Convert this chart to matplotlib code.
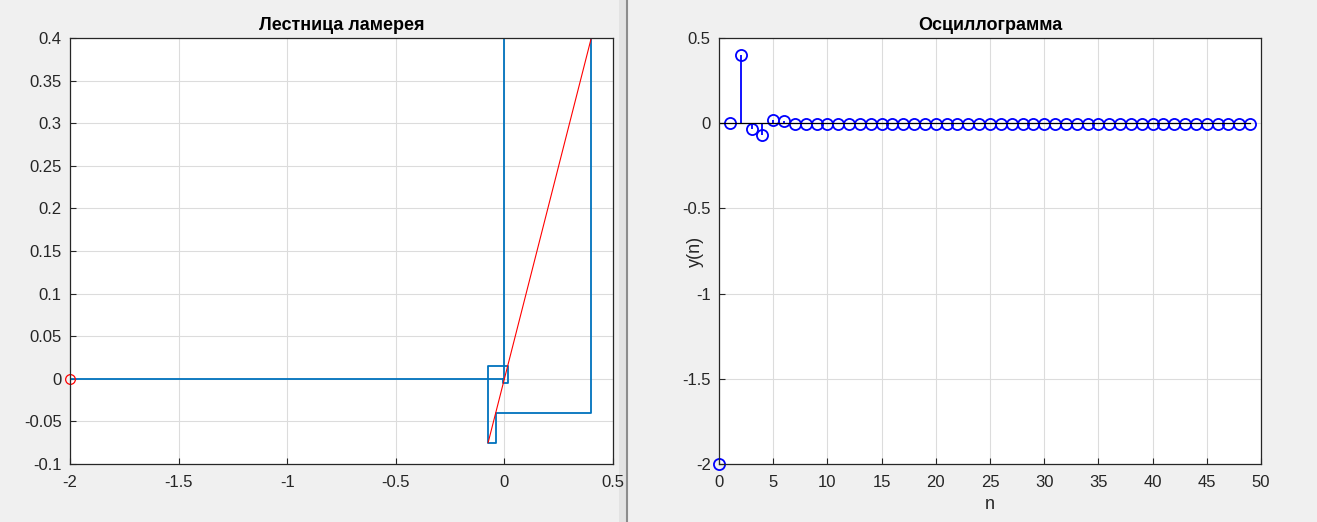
import matplotlib
matplotlib.use('Agg')
import matplotlib.pyplot as plt
from matplotlib.lines import Line2D
from matplotlib.patches import Rectangle
import numpy as np

plt.rcParams['font.family'] = ['Liberation Sans', 'DejaVu Sans']

# iterates used for the Lamerey staircase
x_seq = [-2.0, 0.0, 0.4, -0.04, -0.075, 0.0156, -0.005, 0.0, 0.0]

# oscillogram y(n), n = 0..49
y_n = [-2.0, 0.0, 0.4, -0.035, -0.072, 0.018, 0.012] + [-0.003] * 43
n = np.arange(len(y_n))

x_ticks_left = [-2, -1.5, -1, -0.5, 0, 0.5]
y_ticks_left = [-0.1, -0.05, 0, 0.05, 0.1, 0.15, 0.2, 0.25, 0.3, 0.35, 0.4]
x_ticks_right = list(range(0, 51, 5))
y_ticks_right = [-2, -1.5, -1, -0.5, 0, 0.5]

bg = '#f0f0f0'
mblue = (0, 0.447, 0.741)
W, H = 1317, 522

fig = plt.figure(figsize=(W / 100, H / 100), dpi=100, facecolor=bg)


def box(l, t, r, b):
    return [l / W, (H - b) / H, (r - l) / W, (b - t) / H]


def style(ax):
    ax.grid(True, color='#dcdcdc', linewidth=0.8)
    ax.set_axisbelow(True)
    ax.tick_params(direction='in', length=4, labelsize=12, colors='#262626')
    ax.tick_params(axis='x', pad=8)
    ax.tick_params(axis='y', pad=6)
    for s in ax.spines.values():
        s.set_color('#262626')
        s.set_linewidth(0.9)


# ---- Lamerey staircase ----
ax1 = fig.add_axes(box(70, 38, 613, 464))
px = [x_seq[0]]
py = [x_seq[1]]
for k in range(1, len(x_seq) - 1):
    px += [x_seq[k], x_seq[k]]
    py += [x_seq[k], x_seq[k + 1]]
ax1.plot(px, py, color=mblue, linewidth=1.3)
lo = min(x_seq[1:])
hi = max(x_seq[1:])
ax1.plot([lo, hi], [lo, hi], color='red', linewidth=0.8)
ax1.plot(x_seq[0], x_seq[1], 'o', color='red', markerfacecolor='none',
         markersize=7, markeredgewidth=0.9, clip_on=False)
ax1.set_xlim(-2, 0.5)
ax1.set_ylim(-0.1, 0.4)
ax1.set_xticks(x_ticks_left)
ax1.set_xticklabels(['-2', '-1.5', '-1', '-0.5', '0', '0.5'])
ax1.set_yticks(y_ticks_left)
ax1.set_yticklabels(['-0.1', '-0.05', '0', '0.05', '0.1', '0.15', '0.2',
                     '0.25', '0.3', '0.35', '0.4'])
ax1.set_title('Лестница ламерея', fontsize=13, fontweight='bold', pad=6)
style(ax1)

# ---- oscillogram ----
ax2 = fig.add_axes(box(719, 38, 1261, 464))
ml, sl, bl = ax2.stem(n, y_n, basefmt='k-')
plt.setp(sl, color='blue', linewidth=1.3)
plt.setp(ml, color='blue', markerfacecolor='none', markersize=8, markeredgewidth=1.3)
plt.setp(bl, linewidth=0.9)
ml.set_clip_on(False)
ax2.set_xlim(0, 50)
ax2.set_ylim(-2, 0.5)
ax2.set_xticks(x_ticks_right)
ax2.set_yticks(y_ticks_right)
ax2.set_yticklabels(['-2', '-1.5', '-1', '-0.5', '0', '0.5'])
ax2.set_xlabel('n', fontsize=13, color='#262626')
ax2.set_ylabel('y(n)', fontsize=13, color='#262626')
ax2.xaxis.set_label_coords(0.5, -0.075)
ax2.yaxis.set_label_coords(-0.028, 0.5)
ax2.set_title('Осциллограмма', fontsize=13, fontweight='bold', pad=6)
style(ax2)

# window split between the two figures
fig.add_artist(Rectangle((619 / W, 0), 8 / W, 1, transform=fig.transFigure,
                         facecolor='#e3e3e3', edgecolor='none', zorder=-1))
fig.add_artist(Line2D([627 / W, 627 / W], [0, 1], transform=fig.transFigure,
                      color='#8c8c8c', linewidth=1.5, zorder=-1))

fig.savefig('out.png', dpi=100, facecolor=bg)
